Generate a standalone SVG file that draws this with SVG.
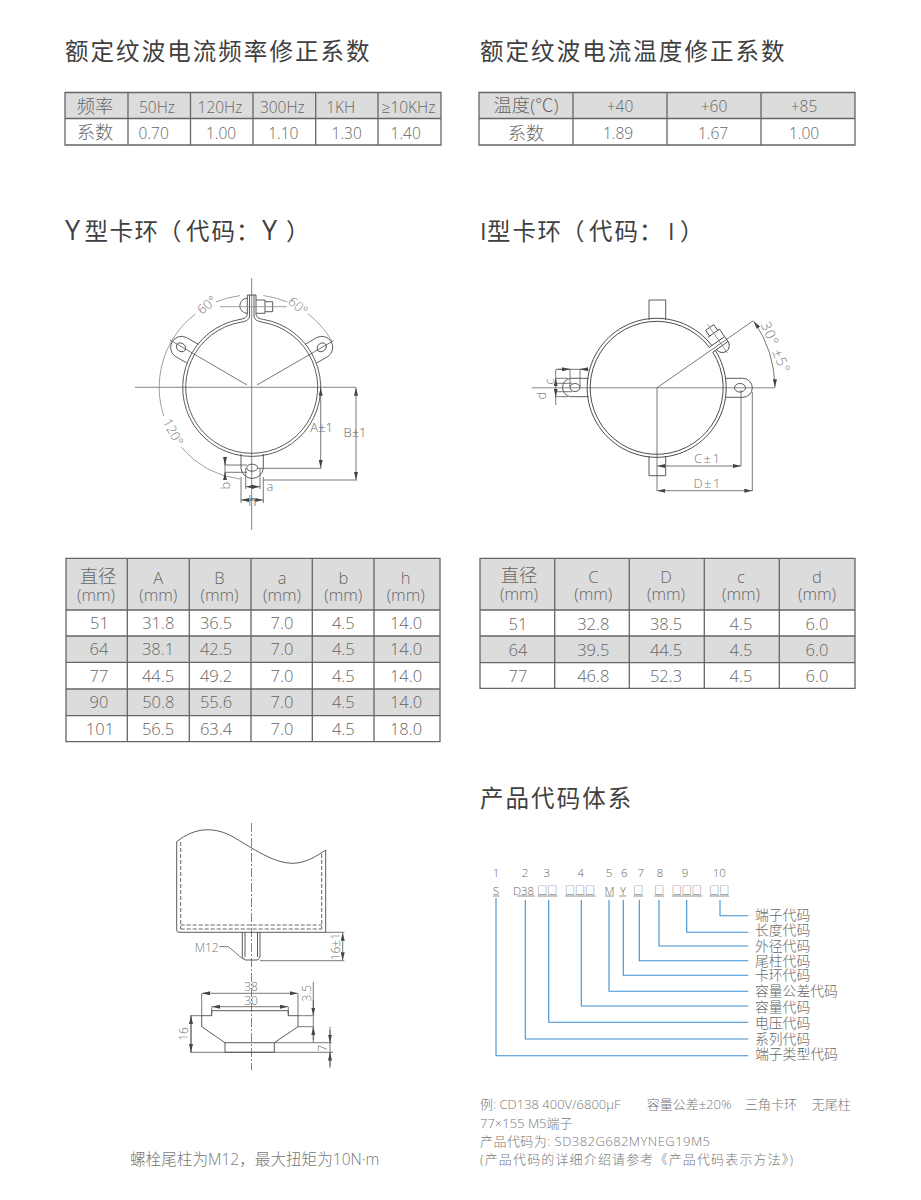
<svg xmlns="http://www.w3.org/2000/svg" width="921" height="1200" viewBox="0 0 921 1200">
<style>
text{font-family:"Open Sans","Noto Sans CJK SC",sans-serif;font-weight:300;fill:#666}
.h{font-size:23.5px;letter-spacing:2.05px;fill:#3f3f3f;font-weight:400}
.ht{font-size:23.5px;fill:#3f3f3f;font-weight:400}
.big{font-size:27px}
.c{text-anchor:middle;font-size:15.5px}
.n{text-anchor:middle;font-size:16.5px}
.z{text-anchor:middle;font-size:18.3px}
.u{text-anchor:middle;font-size:16.5px}
.d{text-anchor:middle;font-size:13px;fill:#777}
.w{text-anchor:middle;font-size:12px;fill:#777}
.lb{font-size:13.8px;fill:#666}
.num{text-anchor:middle;font-size:11.5px;fill:#666}
.note{font-size:13px;fill:#777}
.g{fill:#dcdcdc;stroke:none}
.grid{stroke:#666;stroke-width:1.3;fill:none}
.l{stroke:#555;stroke-width:.8;fill:none}
.m{stroke:#4a4a4a;stroke-width:.9;fill:none}
.t{stroke:#888;stroke-width:.8;fill:none}
.cl{stroke:#777;stroke-width:.9;fill:none}
.dash{stroke:#555;stroke-width:.9;fill:none;stroke-dasharray:4 2}
.dd{stroke:#666;stroke-width:.8;fill:none;stroke-dasharray:9 2 2 2}
.a{stroke:#555;stroke-width:.8;fill:none;marker-start:url(#ar);marker-end:url(#ar)}
.e{stroke:#555;stroke-width:.8;fill:none;marker-end:url(#ar)}
.b{stroke:#3f8fd2;stroke-width:1.1;fill:none}
.ul{stroke:#777;stroke-width:.8;fill:none}
.box{font-size:10px;font-weight:400}
</style>
<defs>
<marker id="ar" viewBox="0 0 8 4" refX="8" refY="2" markerWidth="8" markerHeight="4" markerUnits="userSpaceOnUse" orient="auto-start-reverse"><path d="M0 0L8 2L0 4Z" fill="#444"/></marker>
</defs>
<rect width="921" height="1200" fill="#fff"/>

<g id="title-freq"><text class="h" x="65" y="60">额定纹波电流频率修正系数</text></g>
<g id="title-temp"><text class="h" x="480" y="60">额定纹波电流温度修正系数</text></g>

<g id="table-freq">
<rect class="g" x="65" y="92.5" width="376" height="26"/>
<path class="grid" d="M65 92.5H441V145H65ZM65 118.5H441M128 92.5V145M190.5 92.5V145M253 92.5V145M315.7 92.5V145M378 92.5V145"/>
<text class="z" x="95" y="113">频率</text><text class="c" x="157" y="113">50Hz</text><text class="c" x="220" y="113">120Hz</text><text class="c" x="282.3" y="113">300Hz</text><text class="c" x="340.7" y="113">1KH</text><text class="c" x="408.5" y="113">≥10KHz</text>
<text class="z" x="95" y="139">系数</text><text class="c" x="153.7" y="139">0.70</text><text class="c" x="221" y="139">1.00</text><text class="c" x="283.3" y="139">1.10</text><text class="c" x="346.7" y="139">1.30</text><text class="c" x="405.7" y="139">1.40</text>
</g>

<g id="table-temp">
<rect class="g" x="479" y="92.5" width="376" height="26"/>
<path class="grid" d="M479 92.5H855V145H479ZM479 118.5H855M573 92.5V145M667 92.5V145M761 92.5V145"/>
<text class="z" x="526" y="112">温度(℃)</text><text class="c" x="620" y="112">+40</text><text class="c" x="714" y="112">+60</text><text class="c" x="804" y="112">+85</text>
<text class="z" x="526" y="140">系数</text><text class="c" x="618" y="139">1.89</text><text class="c" x="713" y="139">1.67</text><text class="c" x="804" y="139">1.00</text>
</g>

<g id="title-y"><text class="ht" y="240"><tspan class="big" x="65">Y</tspan><tspan x="84.5 109.5 134.5 158 186 211.5 236">型卡环（代码：</tspan><tspan class="big" x="262">Y</tspan><tspan x="286">）</tspan></text></g>
<g id="title-i"><text class="ht" x="480 487 512.5 537.5 561 589 614.5 639 668 680" y="240">I型卡环（代码：I）</text></g>

<g id="clamp-y">
<path class="cl" d="M135 387.3H356M251.7 278V530"/>
<path class="m" d="M247.3 295V314.5Q247 318.4 240 319.4A69 69 0 1 0 263.4 319.4Q256.4 318.4 256 314.5V295H247.3"/>
<path class="m" d="M249.5 295V317Q248.5 321 241 322.2A66 66 0 1 0 262.4 322.2Q255 321 254 317V295"/>
<path class="m" d="M247.3 298.3A7.5 7.5 0 0 0 247.3 313.3"/>
<path class="m" d="M256 300H265V313.3H256M265 301.7H272.7V311.7H265"/>
<path class="t" d="M220 306.7H286.7"/>
<path class="m" d="M198.5 344.5L186.5 337.5A11 11 0 0 0 175.5 356.5L186.8 363"/>
<path class="m" d="M304.9 344.5L316.9 337.5A11 11 0 0 1 327.9 356.5L316.6 363"/>
<ellipse class="m" cx="181" cy="347.3" rx="5" ry="4" transform="rotate(40 181 347.3)"/>
<ellipse class="m" cx="321.7" cy="347.3" rx="5" ry="4" transform="rotate(-40 321.7 347.3)"/>
<path class="m" d="M241 454V468.3A11.2 11.2 0 0 0 263.3 468.3V454"/>
<ellipse class="m" cx="252.2" cy="467.7" rx="5.5" ry="3.5"/>
<path class="l" d="M247 385L170 340M257 385L333.5 340.7"/>
<path class="t" d="M171.6 341A92.5 92.5 0 0 0 163.7 415.9M181.2 447.2A92.5 92.5 0 0 0 240 479.1"/>
<path class="t" d="M171.6 341A92.5 92.5 0 0 1 195.4 313.9M215.9 302A92.5 92.5 0 0 1 240 295.6M263.4 295.6A92.5 92.5 0 0 1 287.5 302M308 313.9A92.5 92.5 0 0 1 331.8 341"/>
<path class="l" d="M257 468.3H321.5M263.5 480H357"/>
<path class="a" d="M320.7 387.7V468"/>
<path class="a" d="M356 387.7V480"/>
<path class="l" d="M241 477V503M263.3 477V503M245.7 468V489M260 468V489"/>
<path class="a" d="M245.7 486.7H260"/>
<path class="a" d="M241 500H263.3"/>
<path class="l" d="M225 456.7V478M225 465H247M225 472.3H247"/>
<path class="e" d="M225 457V465"/>
<path class="e" d="M225 478V472.3"/>
<text class="d" transform="translate(207 305) rotate(-40)" x="0" y="4.5">60°</text>
<text class="d" transform="translate(298 306) rotate(40)" x="0" y="4.5">60°</text>
<text class="d" transform="translate(173 432) rotate(62)" x="0" y="4.5">120°</text>
<text class="d" x="321.7" y="432" style="fill:#666">A±1</text>
<text class="d" x="355" y="437" style="fill:#666">B±1</text>
<text class="d" transform="translate(225 485.7) rotate(-90)" x="0" y="4.5">b</text>
<text class="d" x="270" y="491">a</text>
<text class="d" x="252.3" y="506" style="font-size:14px;fill:#555">h</text>
</g>

<g id="clamp-i">
<path class="cl" d="M531.7 387.8H775"/>
<path class="m" d="M649 320V300H665.7V320M649 456V475.7H665.7V456"/>
<g transform="translate(656.7 387.8) rotate(-35)">
<path class="m" d="M69.4 3A69.5 69.5 0 1 1 69.4 -3M66.4 3A66.5 66.5 0 1 1 66.4 -3"/>
<path class="m" d="M66.4 3H85V-3H66.4M71 -12H85V-3M73 -12V-19H83V-12M71 3A7 7 0 0 0 85 3"/>
<path class="t" d="M78 -23V12"/>
</g>
<path class="m" d="M725 378.3H742.8A9.5 9.5 0 0 1 742.8 397.3H725"/>
<path class="m" d="M588.5 378.3H570.5A9.3 9.3 0 0 0 570.5 396.7H588.5"/>
<ellipse class="m" cx="740" cy="387.8" rx="5.5" ry="4.3"/>
<ellipse class="m" cx="575" cy="387.5" rx="5" ry="4"/>
<path class="l" d="M657 387.8L753.3 320.7"/>
<path class="a" d="M753.8 321.2A118 118 0 0 1 775 387.3"/>
<path class="l" d="M657 387.8V491"/>
<path class="a" d="M657.3 466H741"/><path class="l" d="M741 390V466"/>
<path class="a" d="M657.3 490.7H752.3"/><path class="l" d="M752.3 392V491"/>
<path class="l" d="M556 369.3H588.3M570 369.3V387M580 369.3V387"/>
<path class="e" d="M558 369.3H570"/>
<path class="e" d="M588.3 369.3H580"/>
<path class="l" d="M555.7 369.3V405M555.7 378.3H568M555.7 383.3H572M555.7 391.7H572M555.7 396.7H568"/>
<path class="e" d="M555.7 386V378.3"/>
<path class="e" d="M555.7 389V396.7"/>
<text class="d" transform="translate(775.7 347.3) rotate(67)" x="0" y="5" style="font-size:14px;letter-spacing:1px">30° ±5°</text>
<text class="d" x="707.7" y="463" style="letter-spacing:1.5px">C±1</text>
<text class="d" x="707.7" y="487.5" style="letter-spacing:1.5px">D±1</text>
<text class="d" transform="translate(549.3 381.7) rotate(-90)" x="0" y="4.5">c</text>
<text class="d" transform="translate(541.7 395.7) rotate(-90)" x="0" y="4.5">d</text>
</g>

<g id="table-y">
<rect class="g" x="66" y="558.3" width="374" height="51.7"/><rect class="g" x="66" y="636" width="374" height="26.3"/><rect class="g" x="66" y="689" width="374" height="26.7"/>
<path class="grid" d="M66 558.3H440V741.7H66ZM66 610H440M66 636H440M66 662.3H440M66 689H440M66 715.7H440M127.3 558.3V741.7M189.3 558.3V741.7M251 558.3V741.7M312.3 558.3V741.7M374 558.3V741.7"/>
<text class="z" x="98" y="583">直径</text><text class="u" x="96" y="601">(mm)</text>
<text class="u" x="158.3" y="584">A</text><text class="u" x="158.3" y="601">(mm)</text>
<text class="u" x="219.5" y="584">B</text><text class="u" x="219.5" y="601">(mm)</text>
<text class="u" x="282" y="584">a</text><text class="u" x="282" y="601">(mm)</text>
<text class="u" x="343.3" y="584">b</text><text class="u" x="343.3" y="601">(mm)</text>
<text class="u" x="405.7" y="584">h</text><text class="u" x="405.7" y="601">(mm)</text>
<text class="n" x="99.5" y="629">51</text><text class="n" x="158.3" y="629">31.8</text><text class="n" x="216" y="629">36.5</text><text class="n" x="282" y="629">7.0</text><text class="n" x="343.3" y="629">4.5</text><text class="n" x="406" y="629">14.0</text>
<text class="n" x="99" y="655">64</text><text class="n" x="158" y="655">38.1</text><text class="n" x="216" y="655">42.5</text><text class="n" x="282" y="655">7.0</text><text class="n" x="343.3" y="655">4.5</text><text class="n" x="406" y="655">14.0</text>
<text class="n" x="99" y="682">77</text><text class="n" x="158" y="682">44.5</text><text class="n" x="216" y="682">49.2</text><text class="n" x="282" y="682">7.0</text><text class="n" x="343.3" y="682">4.5</text><text class="n" x="406" y="682">14.0</text>
<text class="n" x="99" y="708">90</text><text class="n" x="158.3" y="708">50.8</text><text class="n" x="216" y="708">55.6</text><text class="n" x="282" y="708">7.0</text><text class="n" x="343.3" y="708">4.5</text><text class="n" x="406" y="708">14.0</text>
<text class="n" x="100" y="735">101</text><text class="n" x="158" y="735">56.5</text><text class="n" x="216" y="735">63.4</text><text class="n" x="282" y="735">7.0</text><text class="n" x="343.3" y="735">4.5</text><text class="n" x="406" y="735">18.0</text>
</g>

<g id="table-i">
<rect class="g" x="480" y="558.3" width="375" height="51.7"/><rect class="g" x="480" y="636" width="375" height="26.7"/>
<path class="grid" d="M480 558.3H855V688.3H480ZM480 610H855M480 636H855M480 662.7H855M554.7 558.3V688.3M629.3 558.3V688.3M704.3 558.3V688.3M779.3 558.3V688.3"/>
<text class="z" x="519" y="582">直径</text><text class="u" x="519" y="600">(mm)</text>
<text class="u" x="593.3" y="583">C</text><text class="u" x="593.3" y="600">(mm)</text>
<text class="u" x="666" y="583">D</text><text class="u" x="666" y="600">(mm)</text>
<text class="u" x="741" y="583">c</text><text class="u" x="741" y="600">(mm)</text>
<text class="u" x="817" y="583">d</text><text class="u" x="817" y="600">(mm)</text>
<text class="n" x="518" y="630">51</text><text class="n" x="593.3" y="630">32.8</text><text class="n" x="666" y="630">38.5</text><text class="n" x="741" y="630">4.5</text><text class="n" x="817" y="630">6.0</text>
<text class="n" x="518" y="656">64</text><text class="n" x="593.3" y="656">39.5</text><text class="n" x="666" y="656">44.5</text><text class="n" x="741" y="656">4.5</text><text class="n" x="817" y="656">6.0</text>
<text class="n" x="518" y="682">77</text><text class="n" x="593.3" y="682">46.8</text><text class="n" x="666" y="682">52.3</text><text class="n" x="741" y="682">4.5</text><text class="n" x="817" y="682">6.0</text>
</g>

<g id="bolt-view">
<path class="dd" d="M251.5 823V1070"/>
<path class="m" d="M176.7 841.7C195 827 215 826 235 838C260 853 275 863 293 863.3C307 863 318 855 325.7 850V932.3H179Q176.7 932.3 176.7 930Z"/>
<path class="dash" d="M180.7 842V929M321.7 854V929M180.7 925H321.7M180.7 929H321.7"/>
<path class="m" d="M242.3 932.3V957L245 960H257.5L260 957V932.3M245 932.3V957M257.5 932.3V957"/>
<path class="l" d="M219.3 946.7H228.3L243.3 959.3"/>
<path class="l" d="M325.7 932.3H344.3M260 960.7H344.3"/>
<path class="a" d="M342.7 932.8V960.2"/>
<text class="w" x="206.7" y="951.5">M12</text>
<text class="w" transform="translate(335.7 946.7) rotate(-90)" x="0" y="4">16±1</text>
</g>

<g id="washer-view">
<path class="m" d="M211.7 1010.7H288.3V1015.7H298V1026.7L274.3 1042.7V1052.3H225V1042.7L201.7 1026.7V1015.7H211.7ZM225 1042.7H274.3"/>
<path class="l" d="M201.7 993.3V1015.7M298 993.3V1015.7M211.7 1006.7V1015.7M288.3 1006.7V1015.7M190 1015.7H201.7M298 1015.7H313.3M298 1026.7H313.3M274.3 1042.7H331.7M190 1052.3H333M313.3 981.7V1042.7M330 1026.7V1068M191 1015.7V1052.3"/>
<path class="a" d="M202 993.3H297.7"/>
<path class="a" d="M212 1006.7H288"/>
<path class="a" d="M191 1016V1052"/>
<path class="e" d="M313.3 1000V1015.5"/>
<path class="e" d="M313.3 1040V1027"/>
<path class="e" d="M330 1030V1042.5"/>
<path class="e" d="M330 1066V1052.5"/>
<text class="w" x="251" y="991">38</text>
<text class="w" x="251" y="1005">30</text>
<text class="w" transform="translate(306.7 993.3) rotate(-90)" x="0" y="4">3.5</text>
<text class="w" transform="translate(184 1034) rotate(-90)" x="0" y="4">16</text>
<text class="w" transform="translate(323.3 1048.3) rotate(-90)" x="0" y="4">7</text>
</g>
<g id="caption-bolt"><text x="130" y="1165" style="font-size:15.6px;fill:#777">螺栓尾柱为M12，最大扭矩为10N·m</text></g>

<g id="title-code"><text class="h" x="480" y="807">产品代码体系</text></g>

<g id="code-head">
<text class="num" x="496" y="877">1</text><text class="num" x="525" y="877">2</text><text class="num" x="546.7" y="877">3</text><text class="num" x="580.7" y="877">4</text><text class="num" x="609" y="877">5</text><text class="num" x="624.3" y="877">6</text><text class="num" x="640.7" y="877">7</text><text class="num" x="660" y="877">8</text><text class="num" x="685" y="877">9</text><text class="num" x="719.3" y="877">10</text>
<text class="num" x="496" y="894.5">S</text><text class="num" x="523.5" y="894.5">D38</text><text class="num" x="609.5" y="894.5">M</text><text class="num" x="623" y="894.5">Y</text>
<text class="box" x="537.3" y="894">□□</text><text class="box" x="565" y="894">□□□</text><text class="box" x="633.3" y="894">□</text><text class="box" x="654.3" y="894">□</text><text class="box" x="671.7" y="894">□□□</text><text class="box" x="709.3" y="894">□□</text>
<path class="ul" d="M493 896H499.5M517 896H535M537.3 896H557.7M565 896H595.7M605 896H614M619 896H626M633.3 896H643.3M654.3 896H664.3M671.7 896H702.3M709.3 896H729.3"/>
</g>

<g id="code-connectors">
<path class="b" d="M720 900V915.7H748.3M686.7 900V932.3H748.3M659 900V946H748.3M639.3 900V960.7H748.3M623.3 900V975.3H748.3M609 900V991.3H748.3M581.3 900V1006H748.3M548.7 900V1022.3H748.3M525.3 900V1039H748.3M496 898V1055.7H748.3"/>
</g>
<g id="code-labels">
<text class="lb" x="755" y="920">端子代码</text><text class="lb" x="755" y="935">长度代码</text><text class="lb" x="755" y="951">外径代码</text><text class="lb" x="755" y="965.7">尾柱代码</text><text class="lb" x="755" y="980.3">卡环代码</text><text class="lb" x="755" y="996.3">容量公差代码</text><text class="lb" x="755" y="1012.3">容量代码</text><text class="lb" x="755" y="1028.3">电压代码</text><text class="lb" x="755" y="1044">系列代码</text><text class="lb" x="755" y="1059.3">端子类型代码</text>
</g>
<g id="code-note">
<text class="note" x="480" y="1109">例: CD138 400V/6800μF</text><text class="note" x="646.7" y="1109">容量公差±20%</text><text class="note" x="745" y="1109">三角卡环</text><text class="note" x="811.7" y="1109">无尾柱</text>
<text class="note" x="480" y="1128">77×155 M5端子</text>
<text class="note" x="480" y="1146" style="letter-spacing:.45px">产品代码为: SD382G682MYNEG19M5</text>
<text class="note" x="480" y="1164" style="letter-spacing:1.15px">(产品代码的详细介绍请参考《产品代码表示方法》)</text>
</g>
</svg>
